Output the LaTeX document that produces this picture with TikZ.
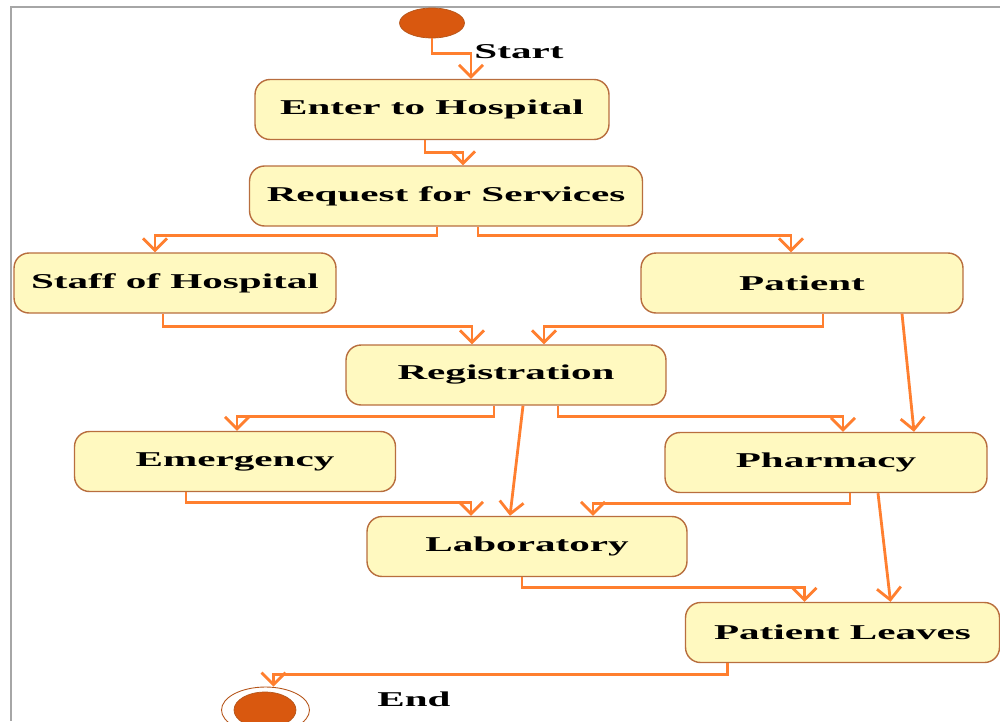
\documentclass[tikz,border=0pt]{standalone}
\usepackage{fontspec}
\newfontfamily\labelfont[FakeStretch=1.95,UprightFont={* Bold}]{Liberation Serif}
\usepackage{tikz}
\usetikzlibrary{arrows.meta,calc,shapes.geometric}
\definecolor{flowline}{HTML}{FF7F2F}
\definecolor{boxfill}{HTML}{FFF9C0}
\definecolor{boxedge}{HTML}{B86E3E}
\definecolor{dotfill}{HTML}{D9580F}
\definecolor{dotedge}{HTML}{B5551A}

\begin{document}
\begin{tikzpicture}[x=0.02cm, y=-0.02cm,
                activity/.style={draw=boxedge, line width=0.8pt, fill=boxfill, rounded corners=0.3cm,
                    minimum height=1.2cm, inner sep=0pt, font=\labelfont\fontsize{12}{14}\selectfont},
                flow/.style={draw=flowline, line width=1.6pt, -{Straight Barb[length=0.24cm,width=0.48cm]}},
                tag/.style={font=\labelfont\fontsize{12}{14}\selectfont}]
                \useasboundingbox (0,0) rectangle (1000,721);
                \draw [gray!70, line width=0.6pt] (1000,7) -- (11,7) -- (11,721);

                \node [ellipse, draw=dotedge, fill=dotfill, minimum width=1.3cm, minimum height=0.6cm, inner sep=0pt] (start) at (432,23) {};
                \node [tag] (starttag) at (519,52) {Start};
                \node [activity, minimum width=7.08cm] (enter) at (432,109.5) {Enter to Hospital};
                \node [activity, minimum width=7.86cm] (request) at (446,196) {Request for Services};
                \node [activity, minimum width=6.44cm] (staff) at (175,283) {Staff of Hospital};
                \node [activity, minimum width=6.44cm] (patient) at (802,283) {Patient};
                \node [activity, minimum width=6.4cm] (registration) at (506,375) {Registration};
                \node [activity, minimum width=6.42cm] (emergency) at (235,461.5) {Emergency};
                \node [activity, minimum width=6.44cm] (pharmacy) at (826,462.5) {Pharmacy};
                \node [activity, minimum width=6.4cm] (laboratory) at (527,546.5) {Laboratory};
                \node [activity, minimum width=6.28cm] (leaves) at (842.5,632.5) {Patient Leaves};
                \node [ellipse, draw=dotedge, line width=0.5pt, minimum width=1.76cm, minimum height=0.92cm, inner sep=0pt] (endring) at (265.5,710) {};
                \node [ellipse, draw=dotedge, fill=dotfill, minimum width=1.24cm, minimum height=0.72cm, inner sep=0pt] (enddot) at (265,710) {};
                \node [tag] (endtag) at (414,699) {End};

                \draw [flow] (start.south) -- ++(0,15) -| ($(enter.north)+(39,0)$);
                \draw [flow] ($(enter.south)+(-7,0)$) -- ++(0,12) -| ($(request.north)+(17,0)$);
                \draw [flow] ($(request.south)+(-9,0)$) -- ++(0,9) -| ($(staff.north)+(-20,0)$);
                \draw [flow] ($(request.south)+(32,0)$) -- ++(0,9) -| ($(patient.north)+(-11,0)$);
                \draw [flow] ($(staff.south)+(-12,0)$) -- ++(0,13) -| ($(registration.north)+(-34,0)$);
                \draw [flow] ($(patient.south)+(21,0)$) -- ++(0,13) -| ($(registration.north)+(38,0)$);
                \draw [flow] ($(patient.south)+(100,0)$) -- ($(pharmacy.north)+(88,0)$);
                \draw [flow] ($(registration.south)+(-12,0)$) -- ++(0,11) -| ($(emergency.north)+(2,0)$);
                \draw [flow] ($(registration.south)+(17,0)$) -- ($(laboratory.north)+(-17,0)$);
                \draw [flow] ($(registration.south)+(52,0)$) -- ++(0,11) -| ($(pharmacy.north)+(17,0)$);
                \draw [flow] ($(emergency.south)+(-49,0)$) -- ++(0,10) -| ($(laboratory.north)+(-56,0)$);
                \draw [flow] ($(pharmacy.south)+(24,0)$) -- ++(0,10) -| ($(laboratory.north)+(66,0)$);
                \draw [flow] ($(pharmacy.south)+(52,0)$) -- ($(leaves.north)+(48,0)$);
                \draw [flow] ($(laboratory.south)+(-5,0)$) -- ++(0,10) -| ($(leaves.north)+(-38,0)$);
                \draw [flow] ($(leaves.south)+(-115,0)$) -- ++(0,11) -| ($(endring.north)+(8,0)$);
            \end{tikzpicture}
\end{document}
